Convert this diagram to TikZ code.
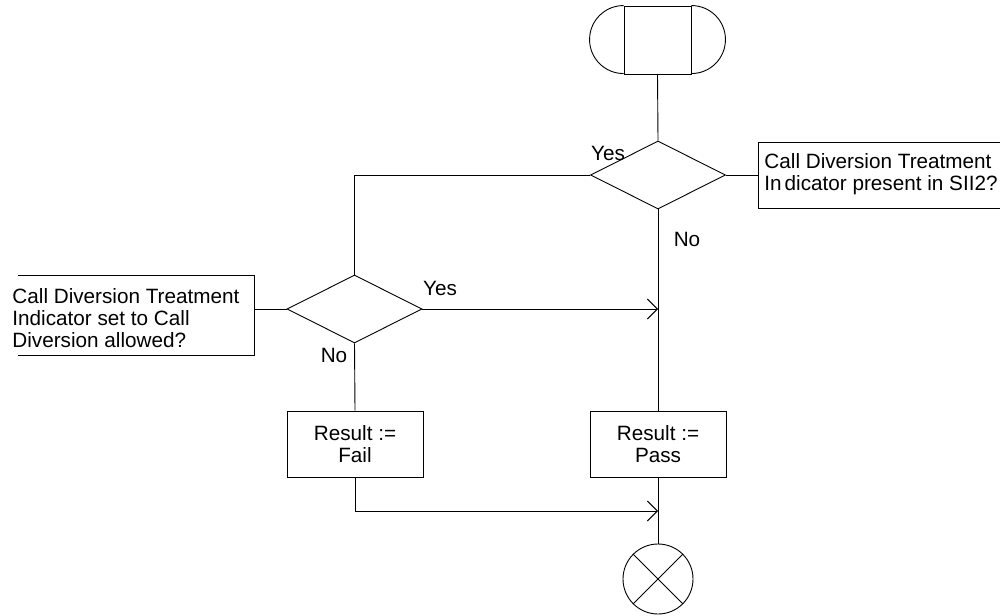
\documentclass[tikz,border=0pt]{standalone}
\usepackage{fontspec}
\setmainfont{Liberation Sans}
\usetikzlibrary{shapes.geometric,arrows.meta}
\begin{document}
\begin{tikzpicture}[x=1pt,y=-1pt,
  line width=0.9pt,
  every node/.style={font=\fontsize{20.7pt}{22pt}\selectfont},
  box/.style={draw,rectangle,minimum width=136pt,minimum height=66pt,inner sep=0pt,align=center},
  decision/.style={draw,diamond,minimum width=135pt,minimum height=68pt,inner sep=0pt},
  note/.style={inner sep=0pt,align=left,anchor=west},
  lbl/.style={inner sep=0pt},
  flowarrow/.style={-{Straight Barb[length=10pt,width=20pt]}}
]
\useasboundingbox (0,0) rectangle (1000,615);

% start symbol: rectangle with rounded ends
\node[draw,rectangle,minimum width=67pt,minimum height=68pt,inner sep=0pt] (term) at (657.5,40) {};
\draw (term.north west) arc[start angle=90,end angle=270,radius=34pt];
\draw (term.north east) arc[start angle=90,end angle=-90,radius=34pt];

% decisions
\node[decision] (d1) at (658,175) {};
\node[decision] (d2) at (354.5,309) {};

% comments attached to the decisions
\coordinate (rcw) at (758,175);
\draw (1000,142) -- (758,142) -- (758,208) -- (1000,208);
\node[note] (rc) at (764,174) {Call Diversion Treatment\\In\kern3pt dicator present in SII2?};

\coordinate (lce) at (254,309);
\draw (18,275) -- (254,275) -- (254,355) -- (18,355);
\node[note] (lc) at (12,318) {Call Diversion Treatment\\Indicator set to Call\\Diversion allowed?};

% tasks
\node[box] (fail) at (355,444) {Result :=\\Fail};
\node[box] (pass) at (658,444) {Result :=\\Pass};

% stop symbol
\node[draw,circle,minimum size=70pt,inner sep=0pt] (stop) at (658,579) {};
\draw (stop.north west) -- (stop.south east);
\draw (stop.north east) -- (stop.south west);

% junction points on the main flow line
\coordinate (j1) at (658,309);
\coordinate (j2) at (658,511);

% connectors
\draw (term.south) -- (d1.north);
\draw (d1.east) -- (rcw);
\draw (d1.west) -| (d2.north);
\draw (d1.south) -- (pass.north);
\draw (d2.west) -- (lce);
\draw[flowarrow] (d2.east) -- (j1);
\draw (d2.south) -- (fail.north);
\draw[flowarrow] (fail.south) |- (j2);
\draw (pass.south) -- (stop.north);

% branch labels
\node[lbl] (y1) at (608,153) {Yes};
\node[lbl] (n1) at (687,239) {No};
\node[lbl] (y2) at (440,288) {Yes};
\node[lbl] (n2) at (334,355) {No};
\end{tikzpicture}
\end{document}
